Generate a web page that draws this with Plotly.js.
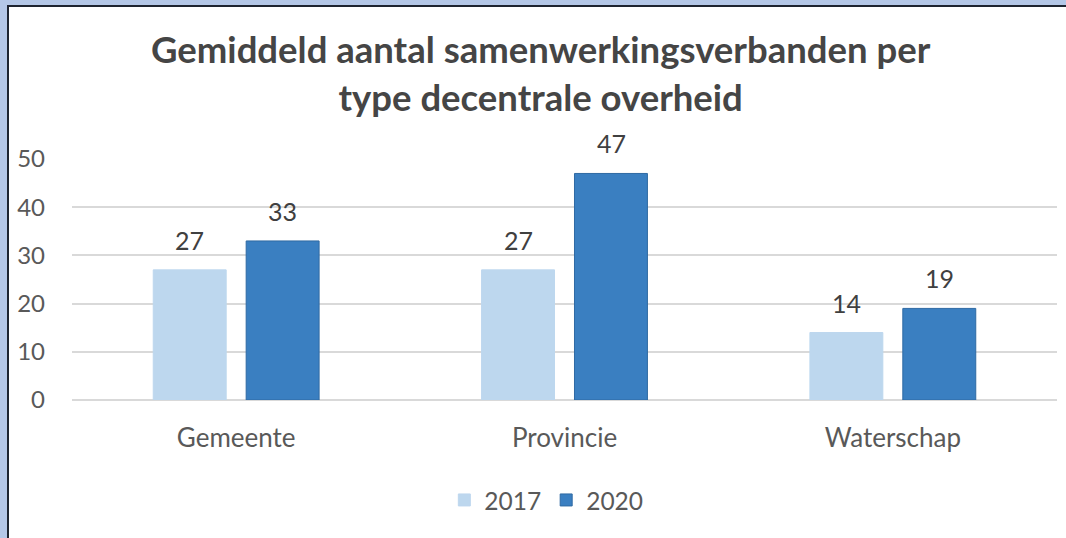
<!DOCTYPE html>
<html>
<head>
<meta charset="utf-8">
<script src="https://cdn.plot.ly/plotly-3.0.1.min.js"></script>
<style>
  html, body { margin: 0; padding: 0; width: 1066px; height: 538px; overflow: hidden; background: #b4c7e7; }
  #frame { position: absolute; left: 7px; top: 5px; width: 1057px; height: 531px; border-left: 2px solid #1e2430; border-top: 2px solid #1e2430; background: #ffffff; }
  #chart { width: 1057px; height: 531px; }
</style>
</head>
<body>
<div id="frame"><div id="chart"></div></div>
<script>
const categories = ['Gemeente', 'Provincie', 'Waterschap'];
const years = ['2017', '2020'];
const values2017 = [27, 27, 14];
const values2020 = [33, 47, 19];
const yTicks = [0, 10, 20, 30, 40, 50];
const titleText = 'Gemiddeld aantal samenwerkingsverbanden per<br>type decentrale overheid';

const colors = ['#bdd7ee', '#3a7fc1'];
const series = [values2017, values2020];
const FONT = 'Lato, "Open Sans", sans-serif';

const traces = series.map((vals, k) => ({
  type: 'bar',
  name: years[k],
  x: categories,
  y: vals,
  marker: { color: colors[k], line: { color: k === 1 ? '#2f6aa3' : '#bdd7ee', width: 1 } },
  hoverinfo: 'skip'
}));

const annotations = [];
series.forEach((vals, k) => {
  vals.forEach((v, i) => {
    annotations.push({
      x: categories[i], y: v, xref: 'x', yref: 'y',
      text: String(v), showarrow: false,
      xshift: k === 0 ? -46.5 : 46.5, yshift: 13, yanchor: 'bottom',
      font: { family: FONT, size: 25, color: '#404040' }
    });
  });
});

const layout = {
  width: 1057, height: 531,
  margin: { l: 63, r: 9, t: 152, b: 138 },
  paper_bgcolor: '#ffffff', plot_bgcolor: '#ffffff',
  title: {
    text: titleText, x: 0.503, xanchor: 'center', yref: 'container', y: 0.894, yanchor: 'middle',
    font: { family: FONT, size: 36.5, color: '#454545', weight: 'bold' }
  },
  barmode: 'group', bargap: 0.434, bargroupgap: 0.215,
  xaxis: {
    type: 'category', showgrid: false, zeroline: false, showline: false, ticks: '',
    ticklabelstandoff: 20,
    tickfont: { family: FONT, size: 26, color: '#595959' }
  },
  yaxis: {
    range: [0, 50], tickvals: yTicks, ticktext: yTicks.map(String),
    showgrid: true, gridcolor: '#d9d9d9', gridwidth: 2,
    zeroline: true, zerolinecolor: '#d9d9d9', zerolinewidth: 2,
    showline: false, ticks: '', ticklabelstandoff: 26,
    tickfont: { family: FONT, size: 24, color: '#595959' }
  },
  showlegend: true,
  legend: {
    orientation: 'h', x: 0.378, xanchor: 'left', y: -0.415, yanchor: 'middle',
    font: { family: FONT, size: 24.5, color: '#595959' },
    itemwidth: 30, traceorder: 'normal'
  },
  annotations: annotations
};

Plotly.newPlot('chart', traces, layout, { displayModeBar: false, staticPlot: true });
</script>
</body>
</html>
